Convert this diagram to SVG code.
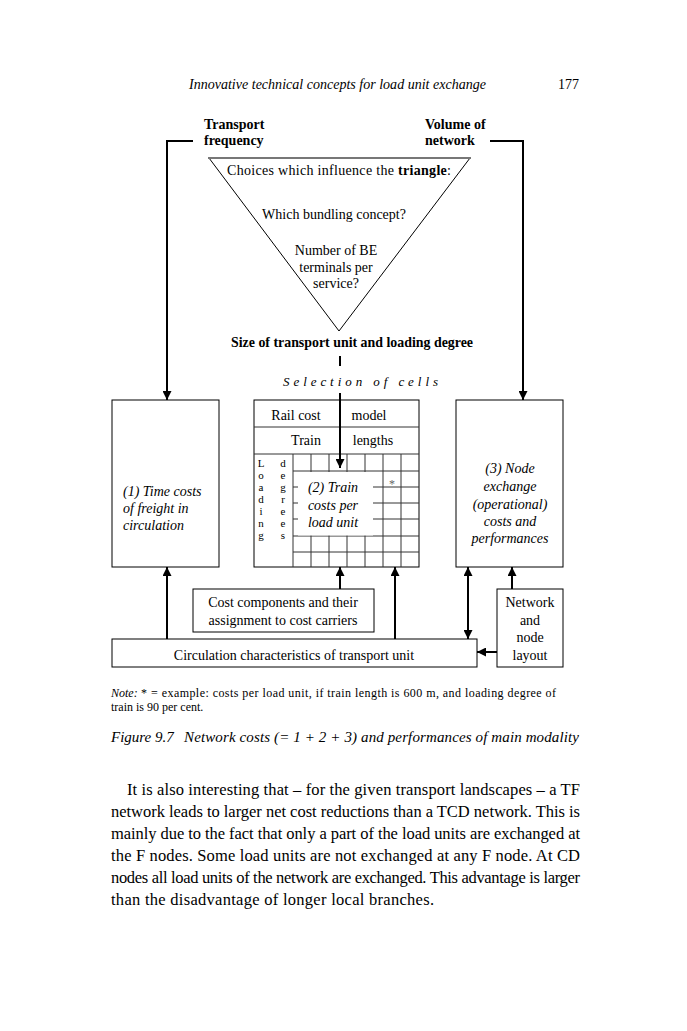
<svg xmlns="http://www.w3.org/2000/svg" width="687" height="1031" viewBox="0 0 687 1031">
<defs>
<marker id="ah" viewBox="0 0 10 10" refX="10" refY="5" markerWidth="9" markerHeight="9" markerUnits="userSpaceOnUse" orient="auto-start-reverse">
<path d="M0,0 L10,5 L0,10 Z" fill="#000"/>
</marker>
</defs>
<style>
text{font-family:"Liberation Serif","Times New Roman",serif;fill:#000}
.t{font-size:14px}
.b{font-weight:bold}
.i{font-style:italic}
.m{text-anchor:middle}
.box{fill:#fff;stroke:#000;stroke-width:1}
.g{stroke:#333;stroke-width:1;fill:none}
.c{stroke:#000;stroke-width:2;fill:none}
.body{font-size:16.5px}
.n{font-size:12px}
.ld{font-size:11px;text-anchor:middle}
</style>
<rect width="687" height="1031" fill="#fff"/>
<g id="page-header">
<text class="t i" x="189" y="89" textLength="297" lengthAdjust="spacingAndGlyphs">Innovative technical concepts for load unit exchange</text>
<text class="t" x="558" y="89">177</text>
</g>
<g id="label-transport-frequency">
<text class="t b" x="204" y="129">Transport</text>
<text class="t b" x="204" y="145">frequency</text>
</g>
<g id="label-volume-network">
<text class="t b" x="425" y="129">Volume of</text>
<text class="t b" x="425" y="145">network</text>
</g>
<g id="triangle">
<line x1="339" y1="331" x2="209" y2="158" stroke="#000" stroke-width="1"/>
<line x1="339" y1="331" x2="470" y2="158" stroke="#000" stroke-width="1"/>
<line x1="208" y1="158" x2="471" y2="158" stroke="#777" stroke-width="2"/>
<text class="t m" x="339" y="175" textLength="224" lengthAdjust="spacing">Choices which influence the <tspan class="b">triangle</tspan>:</text>
<text class="t m" x="334" y="219">Which bundling concept?</text>
<text class="t m" x="336" y="255">Number of BE</text>
<text class="t m" x="336" y="272">terminals per</text>
<text class="t m" x="336" y="288">service?</text>
</g>
<g id="label-size">
<text class="t b m" x="352" y="347" textLength="242" lengthAdjust="spacingAndGlyphs">Size of transport unit and loading degree</text>
</g>
<g id="label-selection">
<text class="i" font-size="13" x="283" y="386" textLength="155" lengthAdjust="spacing">Selection of cells</text>
</g>
<g id="box-time-costs">
<rect class="box" x="112" y="400" width="107" height="167"/>
<text class="t i" x="123" y="496">(1) Time costs</text>
<text class="t i" x="123" y="513">of freight in</text>
<text class="t i" x="123" y="530">circulation</text>
</g>
<g id="box-rail-cost-model">
<rect class="box" x="254" y="400" width="165" height="167"/>
<line class="g" x1="254" y1="427" x2="419" y2="427"/>
<line class="g" x1="254" y1="454" x2="419" y2="454"/>
<text class="t m" x="296" y="420">Rail cost</text>
<text class="t m" x="369" y="420">model</text>
<text class="t m" x="306" y="445">Train</text>
<text class="t m" x="373" y="445">lengths</text>
<line class="g" x1="293" y1="454" x2="293" y2="567"/>
<g class="grid">
<line class="g" x1="311" y1="454" x2="311" y2="567"/>
<line class="g" x1="329" y1="454" x2="329" y2="567"/>
<line class="g" x1="347" y1="454" x2="347" y2="567"/>
<line class="g" x1="365" y1="454" x2="365" y2="567"/>
<line class="g" x1="383" y1="454" x2="383" y2="567"/>
<line class="g" x1="401" y1="454" x2="401" y2="567"/>
<line class="g" x1="293" y1="471" x2="419" y2="471"/>
<line class="g" x1="293" y1="487" x2="419" y2="487"/>
<line class="g" x1="293" y1="503" x2="419" y2="503"/>
<line class="g" x1="293" y1="519" x2="419" y2="519"/>
<line class="g" x1="293" y1="536" x2="419" y2="536"/>
<line class="g" x1="293" y1="552" x2="419" y2="552"/>
</g>
<rect x="298" y="472" width="75" height="63.5" fill="#fff"/>
<text class="t i m" x="333" y="492">(2) Train</text>
<text class="t i m" x="333" y="510">costs per</text>
<text class="t i m" x="333" y="527">load unit</text>
<text font-size="12" x="392" y="488" text-anchor="middle" style="fill:#666">*</text>
<g>
<text class="ld" x="261" y="467">L</text><text class="ld" x="283" y="467">d</text>
<text class="ld" x="261" y="479">o</text><text class="ld" x="283" y="479">e</text>
<text class="ld" x="261" y="491">a</text><text class="ld" x="283" y="491">g</text>
<text class="ld" x="261" y="503">d</text><text class="ld" x="283" y="503">r</text>
<text class="ld" x="261" y="515">i</text><text class="ld" x="283" y="515">e</text>
<text class="ld" x="261" y="527">n</text><text class="ld" x="283" y="527">e</text>
<text class="ld" x="261" y="539">g</text><text class="ld" x="283" y="539">s</text>
</g>
</g>
<g id="box-node-exchange">
<rect class="box" x="456" y="400" width="107" height="167"/>
<text class="t i m" x="510" y="473">(3) Node</text>
<text class="t i m" x="510" y="491">exchange</text>
<text class="t i m" x="510" y="509">(operational)</text>
<text class="t i m" x="510" y="526">costs and</text>
<text class="t i m" x="510" y="543">performances</text>
</g>
<g id="box-cost-components">
<rect class="box" x="193" y="589" width="181" height="43"/>
<text class="t m" x="283" y="607">Cost components and their</text>
<text class="t m" x="283" y="625">assignment to cost carriers</text>
</g>
<g id="box-circulation">
<rect class="box" x="112" y="639" width="365" height="28"/>
<text class="t m" x="294" y="660">Circulation characteristics of transport unit</text>
</g>
<g id="box-network-layout">
<rect class="box" x="497" y="589" width="66" height="78"/>
<text class="t m" x="530" y="607">Network</text>
<text class="t m" x="530" y="625">and</text>
<text class="t m" x="530" y="642">node</text>
<text class="t m" x="530" y="660">layout</text>
</g>
<g id="connectors">
<polyline class="c" points="193,141 167,141 167,400" marker-end="url(#ah)"/>
<polyline class="c" points="490,141 523,141 523,400" marker-end="url(#ah)"/>
<line class="c" x1="340" y1="356" x2="340" y2="366"/>
<line class="c" x1="340" y1="393" x2="340" y2="468" marker-end="url(#ah)"/>
<line class="c" x1="167" y1="639" x2="167" y2="567" marker-end="url(#ah)"/>
<line class="c" x1="340" y1="589" x2="340" y2="567" marker-end="url(#ah)"/>
<line class="c" x1="395" y1="639" x2="395" y2="567" marker-end="url(#ah)"/>
<line class="c" x1="468" y1="567" x2="468" y2="639" marker-start="url(#ah)" marker-end="url(#ah)"/>
<line class="c" x1="512" y1="589" x2="512" y2="567" marker-end="url(#ah)"/>
<line class="c" x1="497" y1="652" x2="477" y2="652" marker-end="url(#ah)"/>
</g>
<g id="note">
<text class="n i" x="111" y="697">Note:</text>
<text class="n" x="141" y="697">*</text>
<text class="n" x="151" y="697" textLength="405" lengthAdjust="spacing">= example: costs per load unit, if train length is 600 m, and loading degree of</text>
<text class="n" x="111" y="711">train is 90 per cent.</text>
</g>
<g id="caption">
<text class="i" font-size="15" x="111" y="742">Figure 9.7</text>
<text class="i" font-size="15" x="184" y="742" textLength="395" lengthAdjust="spacing">Network costs (= 1 + 2 + 3) and performances of main modality</text>
</g>
<g id="body-text">
<text class="body" x="127" y="795" textLength="453" lengthAdjust="spacing">It is also interesting that – for the given transport landscapes – a TF</text>
<text class="body" x="111" y="817" textLength="469" lengthAdjust="spacing">network leads to larger net cost reductions than a TCD network. This is</text>
<text class="body" x="111" y="839" textLength="469" lengthAdjust="spacing">mainly due to the fact that only a part of the load units are exchanged at</text>
<text class="body" x="111" y="861" textLength="469" lengthAdjust="spacing">the F nodes. Some load units are not exchanged at any F node. At CD</text>
<text class="body" x="111" y="883" textLength="469" lengthAdjust="spacing">nodes all load units of the network are exchanged. This advantage is larger</text>
<text class="body" x="111" y="905" textLength="323" lengthAdjust="spacing">than the disadvantage of longer local branches.</text>
</g>
</svg>
